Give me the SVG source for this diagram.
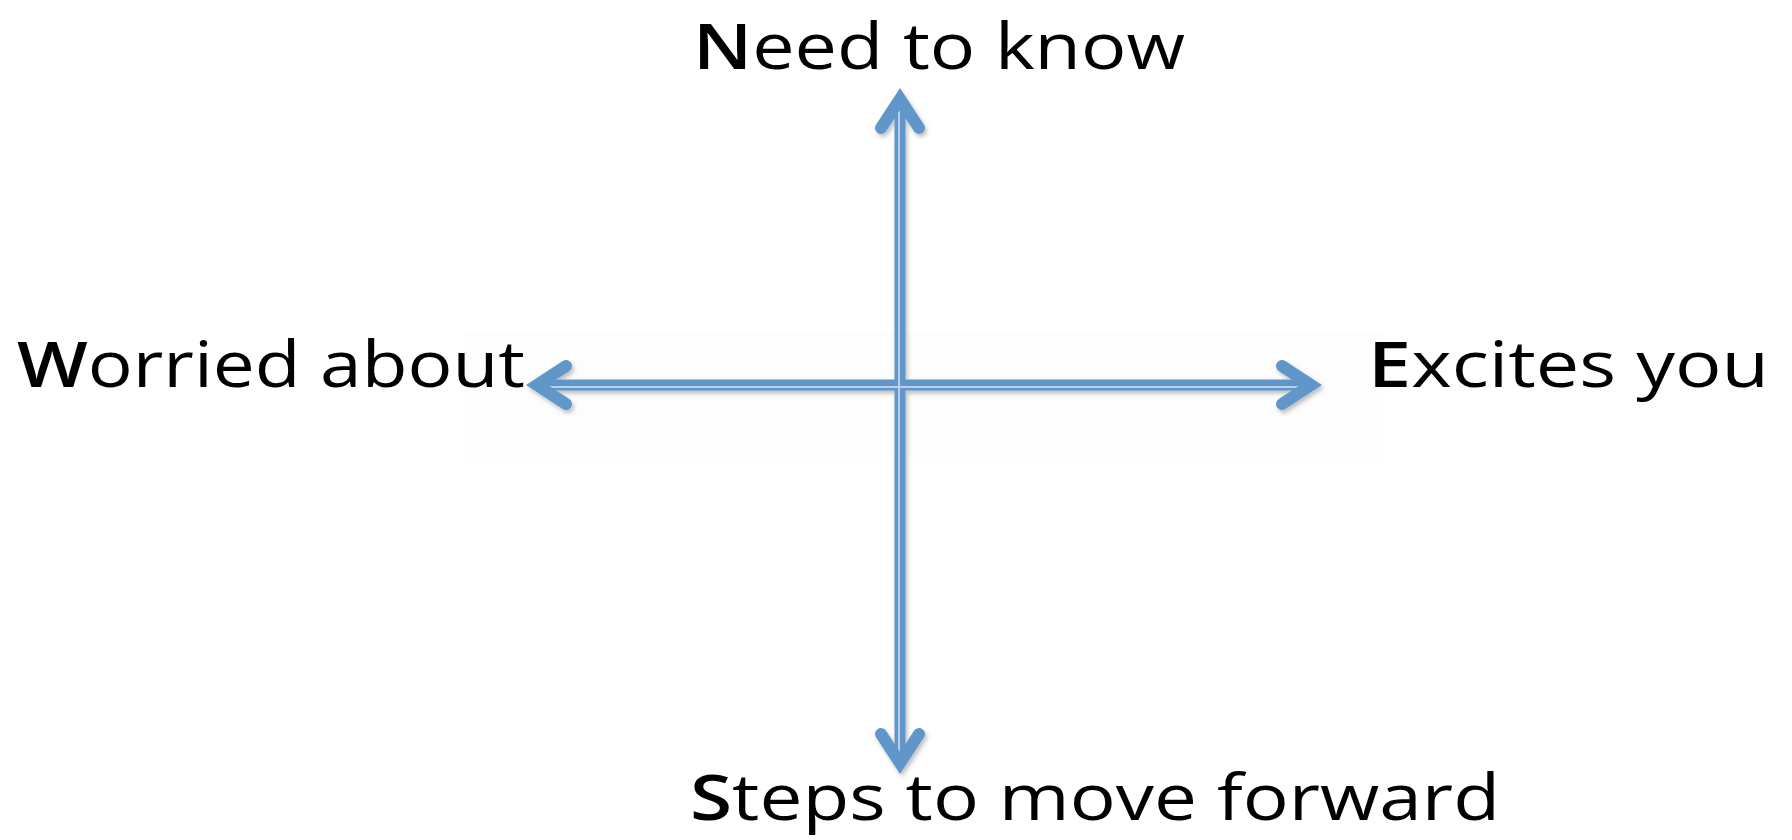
<svg xmlns="http://www.w3.org/2000/svg" xmlns:xlink="http://www.w3.org/1999/xlink" width="1792" height="840" viewBox="0 0 1792 840">
  <style>
    .lbl { font-family: "Open Sans", "Liberation Sans", Arial, sans-serif; font-size: 64px; fill: #000; }
    .b { font-weight: 600; }
    .shaft { stroke: #6196CA; stroke-width: 11; fill: none; }
    .hl { stroke: #B9D1EA; stroke-width: 2; fill: none; }
    .head { stroke: #6196CA; stroke-width: 12; fill: none; stroke-linecap: round; stroke-linejoin: miter; stroke-miterlimit: 10; }
  </style>
  <defs>
    <filter id="sh" x="-20%" y="-20%" width="140%" height="140%">
      <feDropShadow dx="2" dy="3" stdDeviation="2" flood-color="#000" flood-opacity="0.25"/>
    </filter>
    <path id="head" d="M-19,29 L0,0 L19,29"/>
  </defs>
  <rect x="0" y="0" width="1792" height="840" fill="#fff"/>
  <rect x="463" y="332" width="922" height="126" fill="#fdfdfd"/>

  <g id="connectors" filter="url(#sh)">
    <line class="shaft" x1="900" y1="100" x2="900" y2="762"/>
    <line class="shaft" x1="538" y1="385" x2="1310" y2="385"/>
    <line class="hl" x1="899" y1="104" x2="899" y2="758"/>
    <line class="hl" x1="542" y1="387" x2="1306" y2="387"/>
    <use xlink:href="#head" class="head" transform="translate(900,99)"/>
    <use xlink:href="#head" class="head" transform="translate(900,763) rotate(180)"/>
    <use xlink:href="#head" class="head" transform="translate(537,385) rotate(-90)"/>
    <use xlink:href="#head" class="head" transform="translate(1311,385) rotate(90)"/>
  </g>

  <g id="node-need">
    <text class="lbl" x="693" y="69" textLength="492" lengthAdjust="spacingAndGlyphs"><tspan class="b">N</tspan>eed to know</text>
  </g>
  <g id="node-worried">
    <text class="lbl" x="17" y="387" textLength="508" lengthAdjust="spacingAndGlyphs"><tspan class="b">W</tspan>orried about</text>
  </g>
  <g id="node-excites">
    <text class="lbl" x="1368" y="387" textLength="401" lengthAdjust="spacingAndGlyphs"><tspan class="b">E</tspan>xcites you</text>
  </g>
  <g id="node-steps">
    <text class="lbl" x="690" y="820" textLength="810" lengthAdjust="spacingAndGlyphs"><tspan class="b">S</tspan>teps to move forward</text>
  </g>
</svg>
